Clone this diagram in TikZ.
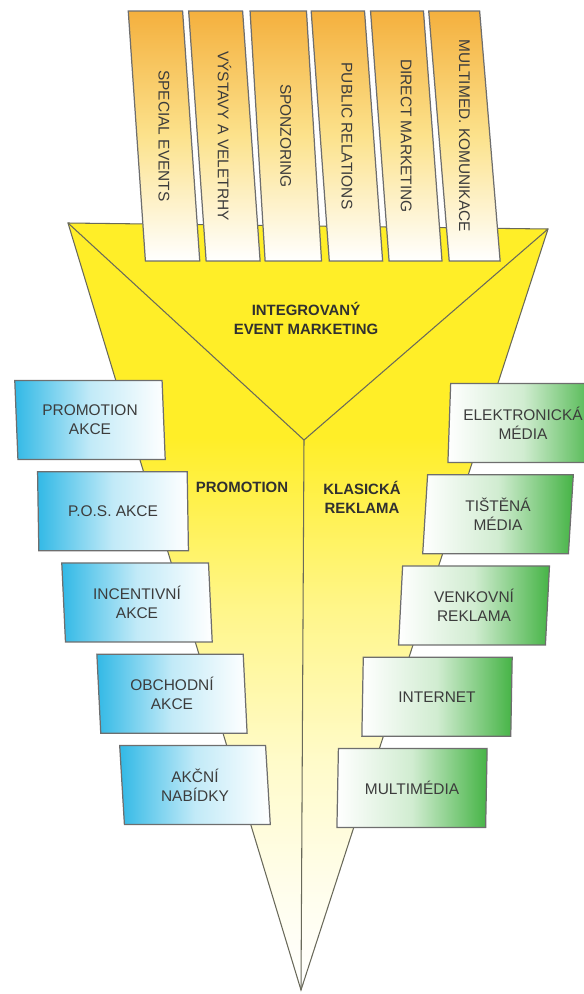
\documentclass[tikz,border=0pt]{standalone}
\usepackage{fontspec}
\setmainfont{Liberation Sans}
\usetikzlibrary{shapes.geometric,positioning}

\definecolor{funnelyellow}{RGB}{255,238,40}
\definecolor{topboxorange}{RGB}{244,176,62}
\definecolor{topboxmid}{RGB}{252,226,140}
\definecolor{promoblue}{RGB}{50,185,230}
\definecolor{mediagreen}{RGB}{70,180,70}
\definecolor{boxline}{RGB}{110,110,110}
\definecolor{funnelline}{RGB}{105,105,90}
\definecolor{boxtext}{RGB}{60,60,60}

% yellow funnel fading out towards the tip
\pgfdeclareverticalshading{funnelshade}{100bp}{color(0bp)=(white); color(25bp)=(white);
  color(31bp)=(funnelyellow!8!white); color(40bp)=(funnelyellow!25!white);
  color(50bp)=(funnelyellow!55!white); color(61bp)=(funnelyellow); color(100bp)=(funnelyellow)}

\tikzset{
  boxfont/.style={text=boxtext, font=\fontsize{8.8}{10.8}\selectfont, align=center},
  topbox/.style={trapezium, trapezium left angle=92.2, trapezium right angle=87.8,
    trapezium stretches=true, minimum width=1.43cm, minimum height=5cm, inner sep=0pt,
    draw=boxline, line width=0.7pt, top color=topboxorange, bottom color=white,
    middle color=topboxmid, boxfont},
  promobox/.style={trapezium, trapezium left angle=94, trapezium right angle=86,
    trapezium stretches=true, minimum width=3.02cm, minimum height=1.58cm, inner sep=0pt,
    draw=boxline, line width=0.7pt, left color=promoblue, right color=white,
    middle color=promoblue!30!white, boxfont},
  mediabox/.style={trapezium, trapezium left angle=86, trapezium right angle=94,
    trapezium stretches=true, minimum width=3.02cm, minimum height=1.58cm, inner sep=0pt,
    draw=boxline, line width=0.7pt, left color=white, right color=mediagreen,
    middle color=mediagreen!25!white, boxfont},
  funnellabel/.style={text=boxtext!80!black, font=\bfseries\fontsize{8.5}{10.8}\selectfont, align=center}
}

\begin{document}
\begin{tikzpicture}[x=0.02cm,y=-0.02cm,node distance=0.22cm]
\useasboundingbox (0,0) rectangle (584,994);

% funnel
\coordinate (ftl) at (68,223);
\coordinate (ftr) at (548,229);
\coordinate (fmid) at (304,440);
\coordinate (ftip) at (301,990);
\shade[shading=funnelshade, draw=funnelline, line width=0.6pt] (ftl) -- (ftr) -- (ftip) -- cycle;
\draw[funnelline, line width=0.6pt] (ftl) -- (fmid) -- (ftr)
  (fmid) -- (ftip);

\node[funnellabel] (iem) at (306,318) {INTEGROVANÝ\\EVENT MARKETING};
\node[funnellabel] (promolabel) at (242,487) {PROMOTION};
\node[funnellabel] (klasika) at (362,497) {KLASICKÁ\\REKLAMA};

% communication tools on top
\node[topbox] (special) at (164,136) {\rotatebox{-90}{SPECIAL EVENTS}};
\node[topbox] (vystavy) [right=0.1cm of special] {\rotatebox{-90}{VÝSTAVY A VELETRHY}};
\node[topbox] (sponzor) [right=0.1cm of vystavy] {\rotatebox{-90}{SPONZORING}};
\node[topbox] (pr) [right=0.1cm of sponzor] {\rotatebox{-90}{PUBLIC RELATIONS}};
\node[topbox] (direct) [right=0.1cm of pr] {\rotatebox{-90}{DIRECT MARKETING}};
\node[topbox] (multimed) [right=0.1cm of direct] {\rotatebox{-90}{MULTIMED. KOMUNIKACE}};

% promotion
\node[promobox] (promoakce) at (90,420) {PROMOTION\\AKCE};
\node[promobox] (posakce) [below=of promoakce, xshift=0.46cm] {P.O.S. AKCE};
\node[promobox] (incentiv) [below=of posakce, xshift=0.48cm] {INCENTIVNÍ\\AKCE};
\node[promobox] (obchod) [below=of incentiv, xshift=0.7cm] {OBCHODNÍ\\AKCE};
\node[promobox] (nabidky) [below=of obchod, xshift=0.46cm] {AKČNÍ\\NABÍDKY};

% klasicka reklama
\node[mediabox] (elektro) at (523,423) {ELEKTRONICKÁ\\MÉDIA};
\node[mediabox] (tistena) [below=of elektro, xshift=-0.5cm] {TIŠTĚNÁ\\MÉDIA};
\node[mediabox] (venkovni) [below=of tistena, xshift=-0.48cm] {VENKOVNÍ\\REKLAMA};
\node[mediabox] (internet) [below=of venkovni, xshift=-0.74cm] {INTERNET};
\node[mediabox] (multimedia) [below=of internet, xshift=-0.5cm] {MULTIMÉDIA};
\end{tikzpicture}
\end{document}
